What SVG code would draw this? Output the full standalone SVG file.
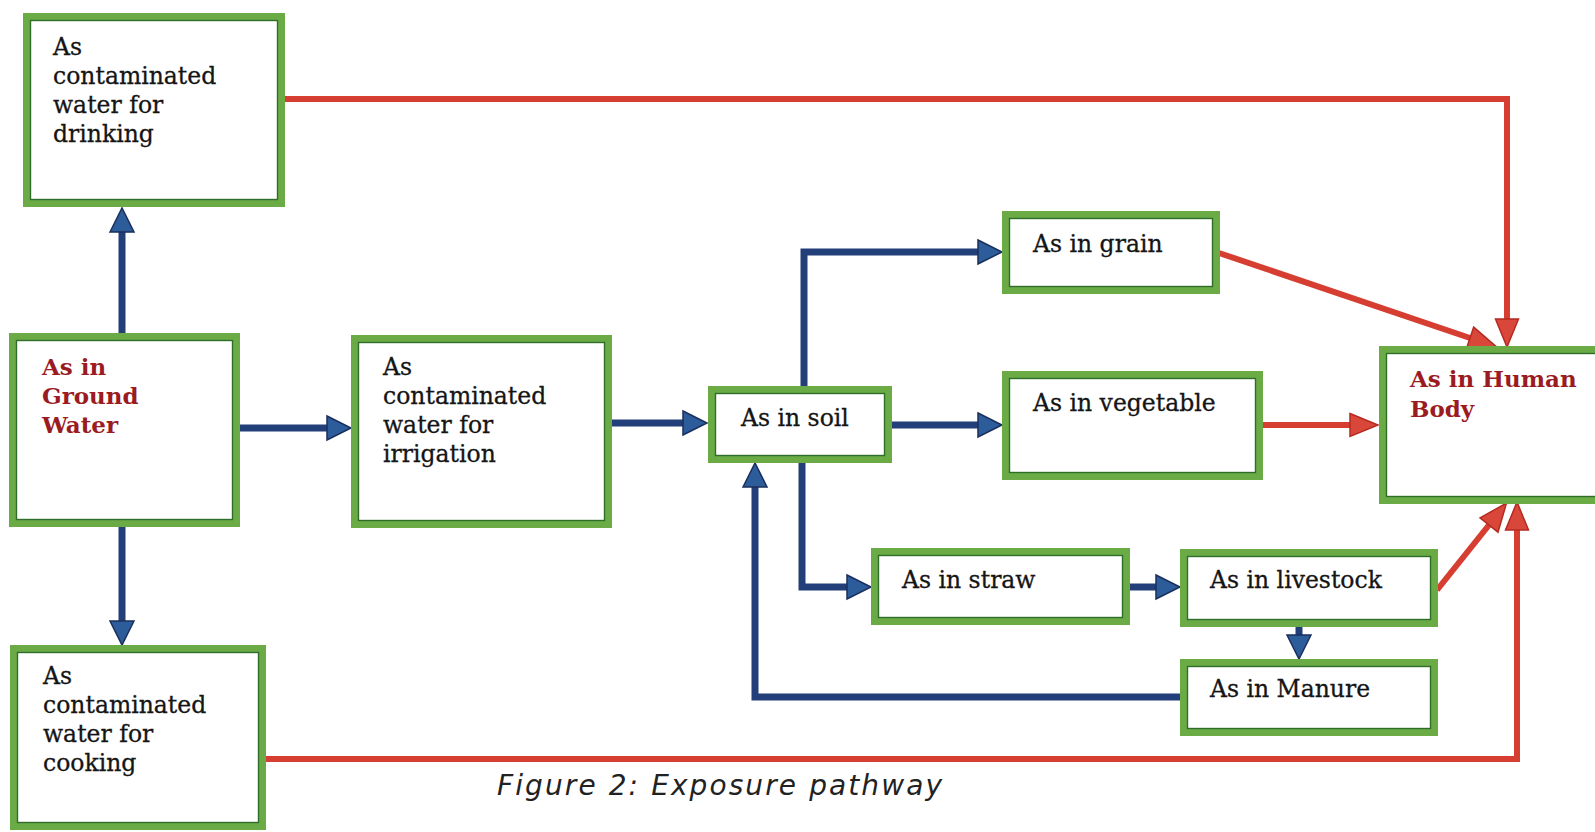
<svg xmlns="http://www.w3.org/2000/svg" width="1595" height="832" viewBox="0 0 1595 832">
<defs>
<style>
.box{fill:#fff;stroke:#6aab45;stroke-width:7}
.inner{fill:none;stroke:#2f6e2a;stroke-width:1.4}
.t{font-family:"DejaVu Serif","Liberation Serif",serif;font-size:23.5px;fill:#151515;stroke:#151515;stroke-width:0.3}
.tb{font-family:"DejaVu Serif","Liberation Serif",serif;font-size:23px;font-weight:bold;fill:#9b1b22}
.blue{fill:none;stroke:#223f7a;stroke-width:7;stroke-linejoin:miter}
.red{fill:none;stroke:#d63e31;stroke-width:6;stroke-linejoin:miter}
.cap{font-family:"DejaVu Sans","Liberation Sans",sans-serif;font-size:28px;font-style:italic;fill:#222}
</style>
<marker id="ab" markerUnits="userSpaceOnUse" markerWidth="30" markerHeight="30" refX="0" refY="12" orient="auto" overflow="visible">
<path d="M0,0 L24,12 L0,24 Z" fill="#2d5c9b" stroke="#1a2f5c" stroke-width="1.5"/>
</marker>
<marker id="ar" markerUnits="userSpaceOnUse" markerWidth="32" markerHeight="30" refX="0" refY="11.5" orient="auto" overflow="visible">
<path d="M0,0 L28,11.5 L0,23 Z" fill="#d9473a" stroke="#b52a20" stroke-width="1.5"/>
</marker>
</defs>
<rect width="1595" height="832" fill="#fff"/>

<g id="connectors">
<path class="blue" d="M122,333 L122,232" marker-end="url(#ab)"/>
<path class="blue" d="M122,527 L122,621" marker-end="url(#ab)"/>
<path class="blue" d="M240,428 L327,428" marker-end="url(#ab)"/>
<path class="blue" d="M612,423 L683,423" marker-end="url(#ab)"/>
<path class="blue" d="M804,386 L804,252 L978,252" marker-end="url(#ab)"/>
<path class="blue" d="M892,425 L978,425" marker-end="url(#ab)"/>
<path class="blue" d="M802,463 L802,587 L847,587" marker-end="url(#ab)"/>
<path class="blue" d="M1130,587 L1156,587" marker-end="url(#ab)"/>
<path class="blue" d="M1299,627 L1299,635" marker-end="url(#ab)"/>
<path class="blue" d="M1180,697 L755,697 L755,487" marker-end="url(#ab)"/>
<path class="red" d="M285,99 L1507,99 L1507,319" marker-end="url(#ar)"/>
<path class="red" d="M1219,253 L1470,338" marker-end="url(#ar)"/>
<path class="red" d="M1263,425 L1350,425" marker-end="url(#ar)"/>
<path class="red" d="M1437,590 L1489,525" marker-end="url(#ar)"/>
<path class="red" d="M266,759 L1517,759 L1517,530" marker-end="url(#ar)"/>
</g>

<g id="drinking">
<rect class="box" x="26.5" y="16.5" width="255" height="187"/>
<rect class="inner" x="30.5" y="20.5" width="247" height="179"/>
<text class="t" x="53" y="55">As</text>
<text class="t" x="53" y="84">contaminated</text>
<text class="t" x="53" y="113">water for</text>
<text class="t" x="53" y="142">drinking</text>
</g>

<g id="groundwater">
<rect class="box" x="12.5" y="336.5" width="224" height="187"/>
<rect class="inner" x="16.5" y="340.5" width="216" height="179"/>
<text class="tb" x="42" y="375">As in</text>
<text class="tb" x="42" y="404">Ground</text>
<text class="tb" x="42" y="433">Water</text>
</g>

<g id="cooking">
<rect class="box" x="13.5" y="648.5" width="249" height="178"/>
<rect class="inner" x="17.5" y="652.5" width="241" height="170"/>
<text class="t" x="43" y="684">As</text>
<text class="t" x="43" y="713">contaminated</text>
<text class="t" x="43" y="742">water for</text>
<text class="t" x="43" y="771">cooking</text>
</g>

<g id="irrigation">
<rect class="box" x="354.5" y="338.5" width="254" height="186"/>
<rect class="inner" x="358.5" y="342.5" width="246" height="178"/>
<text class="t" x="383" y="375">As</text>
<text class="t" x="383" y="404">contaminated</text>
<text class="t" x="383" y="433">water for</text>
<text class="t" x="383" y="462">irrigation</text>
</g>

<g id="soil">
<rect class="box" x="711.5" y="389.5" width="177" height="70"/>
<rect class="inner" x="715.5" y="393.5" width="169" height="62"/>
<text class="t" x="741" y="426">As in soil</text>
</g>

<g id="grain">
<rect class="box" x="1005.5" y="214.5" width="211" height="76"/>
<rect class="inner" x="1009.5" y="218.5" width="203" height="68"/>
<text class="t" x="1033" y="252">As in grain</text>
</g>

<g id="vegetable">
<rect class="box" x="1005.5" y="374.5" width="254" height="102"/>
<rect class="inner" x="1009.5" y="378.5" width="246" height="94"/>
<text class="t" x="1033" y="411">As in vegetable</text>
</g>

<g id="human">
<rect class="box" x="1382.5" y="349.5" width="230" height="151"/>
<rect class="inner" x="1386.5" y="353.5" width="222" height="143"/>
<text class="tb" x="1410" y="387">As in Human</text>
<text class="tb" x="1410" y="417">Body</text>
</g>

<g id="straw">
<rect class="box" x="874.5" y="551.5" width="252" height="70"/>
<rect class="inner" x="878.5" y="555.5" width="244" height="62"/>
<text class="t" x="902" y="588">As in straw</text>
</g>

<g id="livestock">
<rect class="box" x="1183.5" y="552.5" width="251" height="71"/>
<rect class="inner" x="1187.5" y="556.5" width="243" height="63"/>
<text class="t" x="1210" y="588">As in livestock</text>
</g>

<g id="manure">
<rect class="box" x="1183.5" y="662.5" width="251" height="70"/>
<rect class="inner" x="1187.5" y="666.5" width="243" height="62"/>
<text class="t" x="1210" y="697">As in Manure</text>
</g>

<text class="cap" x="497" y="795" textLength="445" lengthAdjust="spacing">Figure 2: Exposure pathway</text>
</svg>
